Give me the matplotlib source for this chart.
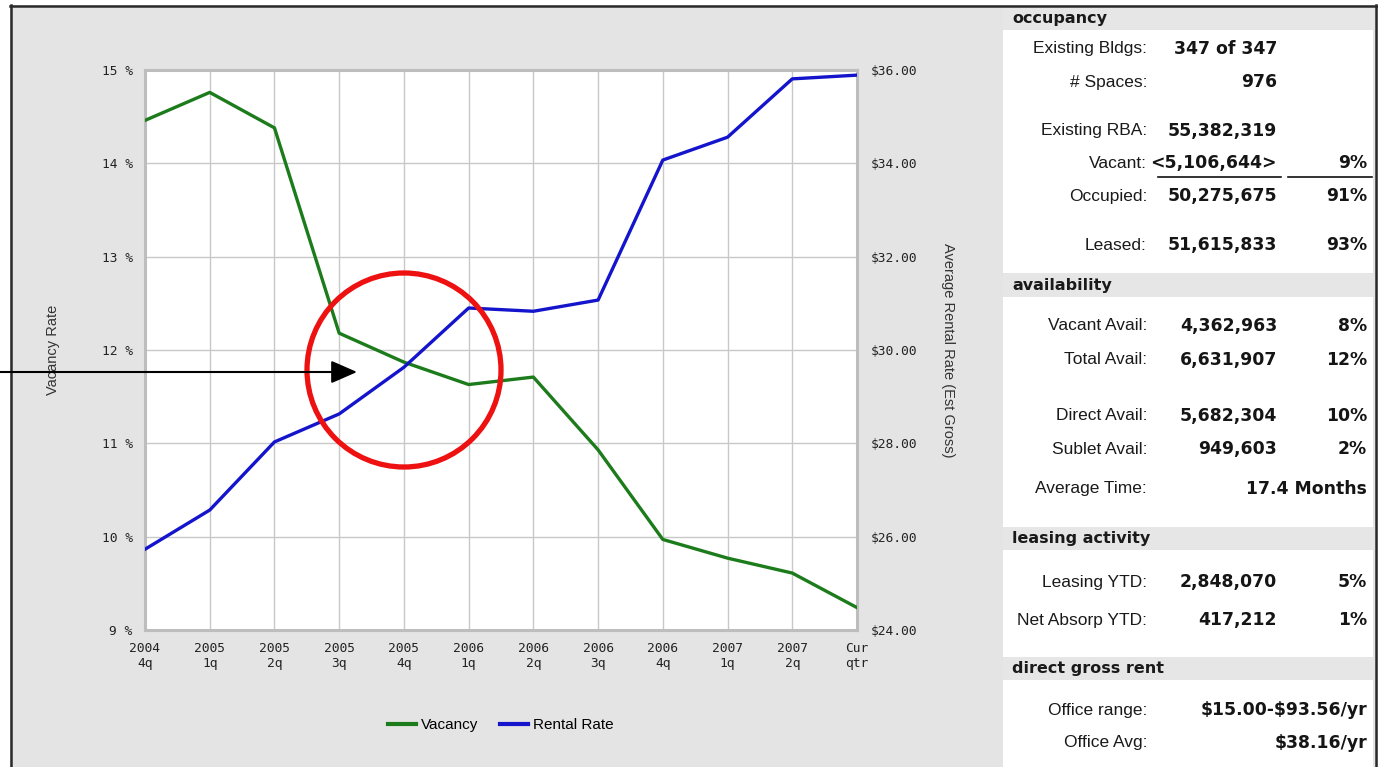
import matplotlib
matplotlib.use("Agg")
import matplotlib.pyplot as plt
from matplotlib.patches import Rectangle, Ellipse, FancyArrowPatch
from matplotlib.lines import Line2D
from matplotlib.ticker import FuncFormatter

# ---- chart data -------------------------------------------------------
quarters = ["2004\n4q", "2005\n1q", "2005\n2q", "2005\n3q", "2005\n4q", "2006\n1q",
            "2006\n2q", "2006\n3q", "2006\n4q", "2007\n1q", "2007\n2q", "Cur\nqtr"]
vacancy = [14.46, 14.76, 14.38, 12.18, 11.87, 11.63, 11.71, 10.93, 9.97, 9.77, 9.61, 9.24]
rental_rate = [25.73, 26.57, 28.03, 28.63, 29.63, 30.90, 30.83, 31.07, 34.07, 34.56, 35.81, 35.89]
vacancy_ticks = [9, 10, 11, 12, 13, 14, 15]
rent_ticks = [24, 26, 28, 30, 32, 34, 36]

# ---- summary panel data ------------------------------------------------
occ_labels = ["Existing Bldgs:", "# Spaces:", "Existing RBA:", "Vacant:", "Occupied:", "Leased:"]
occ_values = ["347 of 347", "976", "55,382,319", "<5,106,644>", "50,275,675", "51,615,833"]
occ_pcts = ["", "", "", "9%", "91%", "93%"]

avail_labels = ["Vacant Avail:", "Total Avail:", "Direct Avail:", "Sublet Avail:", "Average Time:"]
avail_values = ["4,362,963", "6,631,907", "5,682,304", "949,603", ""]
avail_pcts = ["8%", "12%", "10%", "2%", "17.4 Months"]

lease_labels = ["Leasing YTD:", "Net Absorp YTD:"]
lease_values = ["2,848,070", "417,212"]
lease_pcts = ["5%", "1%"]

rent_labels = ["Office range:", "Office Avg:"]
rent_values = ["", ""]
rent_pcts = ["$15.00-$93.56/yr", "$38.16/yr"]

section_titles = ["occupancy", "availability", "leasing activity", "direct gross rent"]

# ---- figure --------------------------------------------------------------
W, H = 1378, 767
fig = plt.figure(figsize=(W / 100, H / 100), dpi=100, facecolor="white")

GREY = "#e4e4e4"
GREEN = "#1c7c1c"
BLUE = "#1414cc"

# background layer in pixel coordinates
bg = fig.add_axes([0, 0, 1, 1], zorder=-1)
bg.set_xlim(0, W)
bg.set_ylim(H, 0)
bg.axis("off")
bg.add_patch(Rectangle((10, 5), W - 10, H - 5, facecolor=GREY, edgecolor="none"))
# summary panel
bg.add_patch(Rectangle((1003, 7), 370, H - 7, facecolor="white", edgecolor="none"))
bands = [(7, 30), (273, 297), (527, 550), (657, 680)]
for (y0, y1), title in zip(bands, section_titles):
    bg.add_patch(Rectangle((1003, y0), 370, y1 - y0, facecolor="#e6e6e6",
                           edgecolor="none"))
    bg.text(1012, (y0 + y1) / 2 + 0.5, title, ha="left", va="center",
            fontsize=11.5, fontweight="bold", family="DejaVu Sans", color="#1a1a1a",
            parse_math=False)

LBL_X, VAL_X, PCT_X = 1147, 1277, 1367


def draw_rows(labels, values, pcts, ys):
    for lab, val, pct, y in zip(labels, values, pcts, ys):
        bg.text(LBL_X, y, lab, ha="right", va="center", fontsize=12.5,
                family="Liberation Sans", color="#1a1a1a", parse_math=False)
        if val:
            bg.text(VAL_X, y, val, ha="right", va="center", fontsize=12.4,
                    fontweight="bold", family="DejaVu Sans", color="#151515",
                    parse_math=False)
        if pct:
            bg.text(PCT_X, y, pct, ha="right", va="center", fontsize=12.4,
                    fontweight="bold", family="DejaVu Sans", color="#151515",
                    parse_math=False)


draw_rows(occ_labels, occ_values, occ_pcts, [49, 82, 131, 163, 196, 245])
draw_rows(avail_labels, avail_values, avail_pcts, [326, 360, 416, 449, 489])
draw_rows(lease_labels, lease_values, lease_pcts, [582, 620])
draw_rows(rent_labels, rent_values, rent_pcts, [710, 743])
# rule under the vacant row
bg.plot([1158, 1281], [177, 177], color="#111111", lw=1.2)
bg.plot([1288, 1372], [177, 177], color="#111111", lw=1.2)

# outer frame
bg.plot([10.5, 10.5], [5, H], color="#2a2a2a", lw=1.8)
bg.plot([10, W], [5.5, 5.5], color="#2a2a2a", lw=1.8)
bg.plot([1376, 1376], [5, H], color="#2a2a2a", lw=1.8)

# ---- line chart ----------------------------------------------------------
L, R, T, B = 145, 857, 70, 630
TICK_FONT = {"family": "DejaVu Sans Mono", "size": 9.3, "color": "#222222"}
ax = fig.add_axes([L / W, 1 - B / H, (R - L) / W, (B - T) / H], zorder=1)
ax.set_facecolor("white")
x = list(range(len(quarters)))
ax.plot(x, vacancy, color=GREEN, lw=2.4, solid_joinstyle="round", zorder=3)
ax.set_xlim(0, len(quarters) - 1)
ax.set_ylim(vacancy_ticks[0], vacancy_ticks[-1])
ax.set_xticks(x)
ax.set_xticklabels(quarters, linespacing=1.1, **TICK_FONT)
ax.set_yticks(vacancy_ticks)
ax.yaxis.set_major_formatter(FuncFormatter(lambda v, p: f"{v:.0f} %"))
ax.tick_params(axis="both", length=0)
ax.tick_params(axis="x", pad=9)
ax.tick_params(axis="y", pad=9)
for lbl in ax.get_yticklabels():
    lbl.set_family(TICK_FONT["family"])
    lbl.set_fontsize(TICK_FONT["size"])
    lbl.set_color(TICK_FONT["color"])
ax.grid(True, color="#c8c8c8", lw=1.0)
ax.set_axisbelow(True)
for sp in ax.spines.values():
    sp.set_color("#bdbdbd")
    sp.set_linewidth(2.2)
ax.set_ylabel("Vacancy Rate", family="Liberation Sans", fontsize=10.5,
              color="#333333", labelpad=0)
ax.yaxis.set_label_coords((60 - L) / (R - L), 0.5)

ax2 = ax.twinx()
ax2.plot(x, rental_rate, color=BLUE, lw=2.4, solid_joinstyle="round", zorder=3)
ax2.set_ylim(rent_ticks[0], rent_ticks[-1])
ax2.set_yticks(rent_ticks)
ax2.yaxis.set_major_formatter(FuncFormatter(lambda v, p: f"${v:.2f}"))
ax2.tick_params(axis="y", length=0, pad=10)
for lbl in ax2.get_yticklabels():
    lbl.set_family(TICK_FONT["family"])
    lbl.set_fontsize(TICK_FONT["size"])
    lbl.set_color(TICK_FONT["color"])
for sp in ax2.spines.values():
    sp.set_visible(False)
ax2.set_ylabel("Average Rental Rate (Est Gross)", family="Liberation Sans",
               fontsize=10.5, color="#333333", rotation=270, va="center")
ax2.yaxis.set_label_coords((948 - L) / (R - L), 0.5)

# legend below the plot
handles = [Line2D([], [], color=GREEN, lw=3), Line2D([], [], color=BLUE, lw=3)]
fig.legend(handles, ["Vacancy", "Rental Rate"], loc="center",
           bbox_to_anchor=(501 / W, 1 - 725 / H), ncol=2, frameon=False,
           handlelength=1.8, handletextpad=0.35, columnspacing=1.4,
           prop={"family": "Liberation Sans", "size": 11})

# ---- highlight overlay ------------------------------------------------
top = fig.add_axes([0, 0, 1, 1], zorder=5)
top.set_xlim(0, W)
top.set_ylim(H, 0)
top.axis("off")
top.patch.set_alpha(0)
top.add_patch(Ellipse((404, 370), 194, 194, fill=False, edgecolor="#ee1111", lw=3.8))
top.add_patch(FancyArrowPatch((0, 372), (357, 372),
                              arrowstyle="-|>,head_length=1.6,head_width=0.7",
                              mutation_scale=10, color="black", lw=1.5,
                              shrinkA=0, shrinkB=0))

fig.savefig("out.png", dpi=100, facecolor="white")
